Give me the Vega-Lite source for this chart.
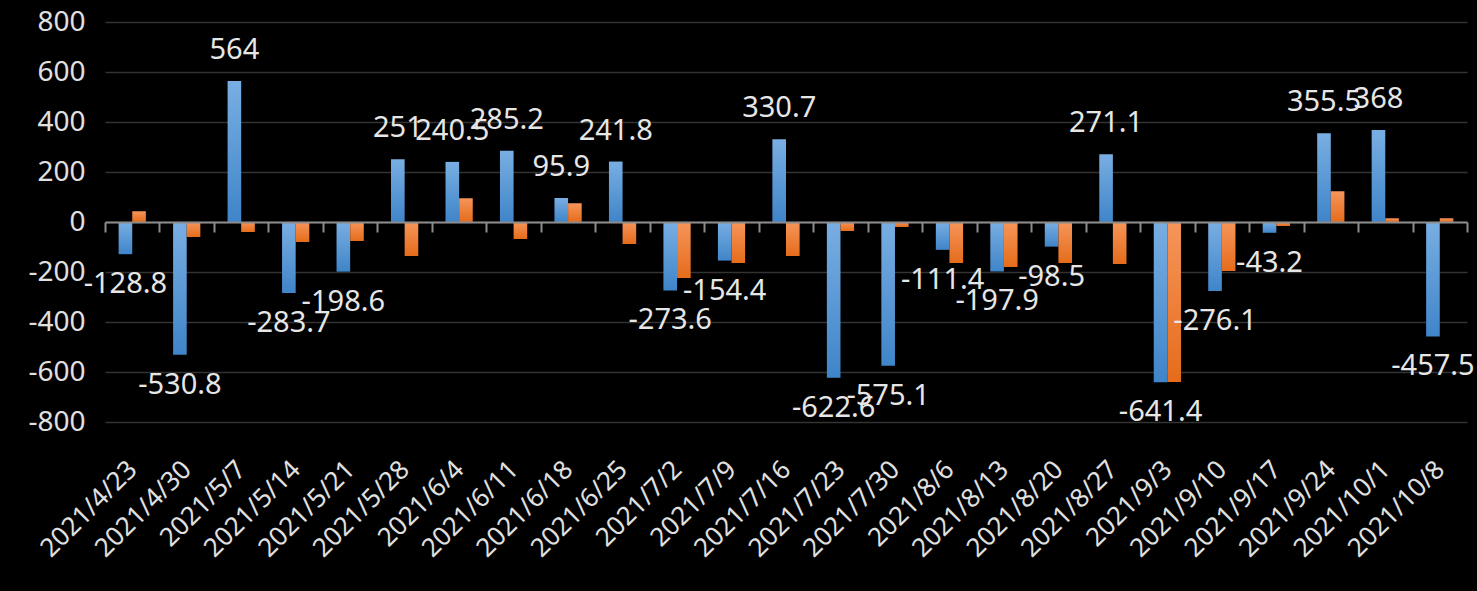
{
  "$schema": "https://vega.github.io/schema/vega-lite/v6.json",
  "width": 1362,
  "height": 400,
  "autosize": {"type": "none"},
  "padding": {"left": 105, "top": 22, "right": 10, "bottom": 169},
  "background": "#000000",
  "config": {"view": {"stroke": null}, "font": "Noto Sans"},
  "datasets": {
    "rows": [
      {"date": "2021/4/23", "series": "s1", "value": -128.8}, {"date": "2021/4/23", "series": "s2", "value": 43},
      {"date": "2021/4/30", "series": "s1", "value": -530.8}, {"date": "2021/4/30", "series": "s2", "value": -60},
      {"date": "2021/5/7", "series": "s1", "value": 564}, {"date": "2021/5/7", "series": "s2", "value": -40},
      {"date": "2021/5/14", "series": "s1", "value": -283.7}, {"date": "2021/5/14", "series": "s2", "value": -80},
      {"date": "2021/5/21", "series": "s1", "value": -198.6}, {"date": "2021/5/21", "series": "s2", "value": -76},
      {"date": "2021/5/28", "series": "s1", "value": 251}, {"date": "2021/5/28", "series": "s2", "value": -136},
      {"date": "2021/6/4", "series": "s1", "value": 240.5}, {"date": "2021/6/4", "series": "s2", "value": 95},
      {"date": "2021/6/11", "series": "s1", "value": 285.2}, {"date": "2021/6/11", "series": "s2", "value": -68},
      {"date": "2021/6/18", "series": "s1", "value": 95.9}, {"date": "2021/6/18", "series": "s2", "value": 75},
      {"date": "2021/6/25", "series": "s1", "value": 241.8}, {"date": "2021/6/25", "series": "s2", "value": -88},
      {"date": "2021/7/2", "series": "s1", "value": -273.6}, {"date": "2021/7/2", "series": "s2", "value": -224},
      {"date": "2021/7/9", "series": "s1", "value": -154.4}, {"date": "2021/7/9", "series": "s2", "value": -164},
      {"date": "2021/7/16", "series": "s1", "value": 330.7}, {"date": "2021/7/16", "series": "s2", "value": -136},
      {"date": "2021/7/23", "series": "s1", "value": -622.6}, {"date": "2021/7/23", "series": "s2", "value": -36},
      {"date": "2021/7/30", "series": "s1", "value": -575.1}, {"date": "2021/7/30", "series": "s2", "value": -20},
      {"date": "2021/8/6", "series": "s1", "value": -111.4}, {"date": "2021/8/6", "series": "s2", "value": -164},
      {"date": "2021/8/13", "series": "s1", "value": -197.9}, {"date": "2021/8/13", "series": "s2", "value": -180},
      {"date": "2021/8/20", "series": "s1", "value": -98.5}, {"date": "2021/8/20", "series": "s2", "value": -164},
      {"date": "2021/8/27", "series": "s1", "value": 271.1}, {"date": "2021/8/27", "series": "s2", "value": -168},
      {"date": "2021/9/3", "series": "s1", "value": -641.4}, {"date": "2021/9/3", "series": "s2", "value": -640},
      {"date": "2021/9/10", "series": "s1", "value": -276.1}, {"date": "2021/9/10", "series": "s2", "value": -196},
      {"date": "2021/9/17", "series": "s1", "value": -43.2}, {"date": "2021/9/17", "series": "s2", "value": -16},
      {"date": "2021/9/24", "series": "s1", "value": 355.5}, {"date": "2021/9/24", "series": "s2", "value": 123},
      {"date": "2021/10/1", "series": "s1", "value": 368}, {"date": "2021/10/1", "series": "s2", "value": 15},
      {"date": "2021/10/8", "series": "s1", "value": -457.5}, {"date": "2021/10/8", "series": "s2", "value": 15}
    ]
  },
  "data": {"name": "rows"},
  "encoding": {
    "x": {
      "field": "date", "type": "nominal", "sort": null,
      "scale": {"paddingInner": 0, "paddingOuter": 0},
      "axis": {
        "title": null, "offset": -200, "zindex": 1,
        "domainColor": "#8c8c8c", "domainWidth": 2,
        "tickColor": "#8c8c8c", "tickWidth": 2, "tickSize": 10, "tickBand": "extent",
        "grid": false, "labelAngle": -45, "labelAlign": "right", "labelBaseline": "middle",
        "labelPadding": 233, "labelColor": "#e0e0e0", "labelFontSize": 26, "labelOverlap": false
      }
    },
    "y": {
      "field": "value", "type": "quantitative",
      "scale": {"domain": [-800, 800], "nice": false},
      "axis": {
        "title": null, "values": [-800, -600, -400, -200, 0, 200, 400, 600, 800],
        "domain": false, "ticks": false, "gridColor": "#333333", "gridWidth": 1.5,
        "labelColor": "#e0e0e0", "labelFontSize": 28, "labelPadding": 20,
        "labelExpr": "'' + datum.value"
      }
    },
    "xOffset": {
      "field": "series", "type": "nominal",
      "scale": {"domain": ["s1", "s2"], "paddingInner": 0, "paddingOuter": 1.27}
    }
  },
  "layer": [
    {
      "transform": [{"filter": "datum.series === 's1'"}],
      "mark": {"type": "bar", "color": {"gradient": "linear", "x1": 0, "y1": 0, "x2": 0, "y2": 1,
        "stops": [{"offset": 0, "color": "#79aee2"}, {"offset": 1, "color": "#3f85c9"}]}}
    },
    {
      "transform": [{"filter": "datum.series === 's2'"}],
      "mark": {"type": "bar", "color": {"gradient": "linear", "x1": 0, "y1": 0, "x2": 0, "y2": 1,
        "stops": [{"offset": 0, "color": "#f6955a"}, {"offset": 1, "color": "#e56c1b"}]}}
    },
    {
      "transform": [{"filter": "datum.series === 's1' && datum.value >= 0"}],
      "mark": {"type": "text", "fontSize": 29, "color": "#e6e6e6", "baseline": "middle", "dy": -31},
      "encoding": {"text": {"field": "value", "type": "nominal"}}
    },
    {
      "transform": [{"filter": "datum.series === 's1' && datum.value < 0"}],
      "mark": {"type": "text", "fontSize": 29, "color": "#e6e6e6", "baseline": "middle", "dy": 30},
      "encoding": {"text": {"field": "value", "type": "nominal"}}
    }
  ]
}
